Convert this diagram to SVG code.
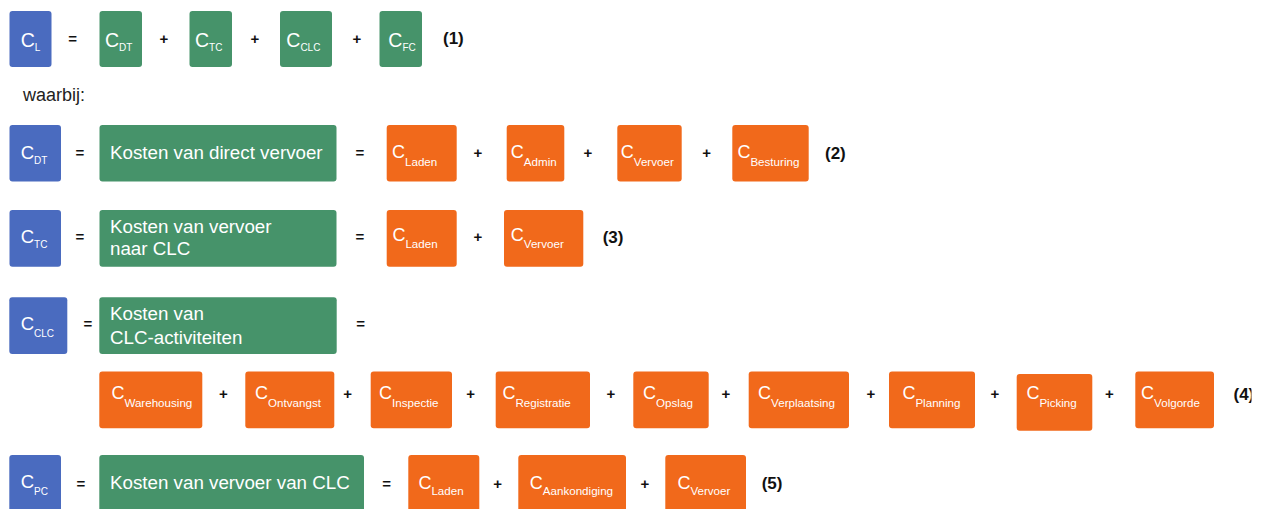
<svg xmlns="http://www.w3.org/2000/svg" width="1265" height="509" viewBox="0 0 1265 509">
  <style>
    .blue { fill: #4A6BBF; }
    .green { fill: #46936A; }
    .orange { fill: #F1691B; }
    text { font-family: "Liberation Sans", Arial, sans-serif; }
    .lbl { fill: #FFFFFF; }
    .c1 { font-size: 19.5px; }
    .s1 { font-size: 10px; }
    .cb { font-size: 18.5px; }
    .sb { font-size: 10px; }
    .co { font-size: 18px; }
    .so { font-size: 11.6px; }
    .desc { fill: #FFFFFF; font-size: 18.75px; }
    .op { fill: #111111; font-size: 15px; font-weight: bold; text-anchor: middle; }
    .num { fill: #111111; font-size: 17px; font-weight: bold; }
    .note { fill: #222222; font-size: 18px; }
  </style>
  <defs>
    <clipPath id="edge"><rect x="0" y="0" width="1251.5" height="509"/></clipPath>
  </defs>

  <!-- (1) C_L = C_DT + C_TC + C_CLC + C_FC -->
  <g id="n-cl"><rect class="blue" x="9.5" y="11" width="42" height="56" rx="3"/>
    <text class="lbl" x="20.7" y="46.7"><tspan class="c1">C</tspan><tspan class="s1" dy="4">L</tspan></text></g>
  <g id="n-cdt-1"><rect class="green" x="99.5" y="11" width="42.5" height="56" rx="3"/>
    <text class="lbl" x="105" y="46.7"><tspan class="c1">C</tspan><tspan class="s1" dy="4">DT</tspan></text></g>
  <g id="n-ctc-1"><rect class="green" x="189.5" y="11" width="42.5" height="56" rx="3"/>
    <text class="lbl" x="195" y="46.7"><tspan class="c1">C</tspan><tspan class="s1" dy="4">TC</tspan></text></g>
  <g id="n-cclc-1"><rect class="green" x="280" y="11" width="52" height="56" rx="3"/>
    <text class="lbl" x="286.3" y="46.7"><tspan class="c1">C</tspan><tspan class="s1" dy="4">CLC</tspan></text></g>
  <g id="n-cfc-1"><rect class="green" x="379.5" y="11" width="42.5" height="56" rx="3"/>
    <text class="lbl" x="388.3" y="46.7"><tspan class="c1">C</tspan><tspan class="s1" dy="4">FC</tspan></text></g>

  <text class="note" x="23" y="101">waarbij:</text>

  <!-- (2) C_DT -->
  <g id="n-cdt"><rect class="blue" x="9.5" y="125" width="51.5" height="56.5" rx="3"/>
    <text class="lbl" x="20.7" y="159"><tspan class="cb">C</tspan><tspan class="sb" dy="5.3">DT</tspan></text></g>
  <g id="n-dt-desc"><rect class="green" x="99.5" y="125" width="237" height="56.5" rx="3"/>
    <text class="desc" x="110" y="159.3">Kosten van direct vervoer</text></g>
  <g id="n-dt-laden"><rect class="orange" x="386.7" y="125" width="70" height="56.5" rx="3"/>
    <text class="lbl" x="392" y="157.7"><tspan class="co">C</tspan><tspan class="so" dy="8">Laden</tspan></text></g>
  <g id="n-dt-admin"><rect class="orange" x="506.7" y="125" width="57.6" height="56.5" rx="3"/>
    <text class="lbl" x="510.8" y="157.7"><tspan class="co">C</tspan><tspan class="so" dy="8">Admin</tspan></text></g>
  <g id="n-dt-vervoer"><rect class="orange" x="617.3" y="125" width="64.4" height="56.5" rx="3"/>
    <text class="lbl" x="620.8" y="157.7"><tspan class="co">C</tspan><tspan class="so" dy="8">Vervoer</tspan></text></g>
  <g id="n-dt-besturing"><rect class="orange" x="732.3" y="125" width="76.4" height="56.5" rx="3"/>
    <text class="lbl" x="737.4" y="157.7"><tspan class="co">C</tspan><tspan class="so" dy="8">Besturing</tspan></text></g>

  <!-- (3) C_TC -->
  <g id="n-ctc"><rect class="blue" x="9.5" y="210" width="51.5" height="56.7" rx="3"/>
    <text class="lbl" x="20.7" y="243.3"><tspan class="cb">C</tspan><tspan class="sb" dy="5">TC</tspan></text></g>
  <g id="n-tc-desc"><rect class="green" x="99.5" y="210" width="237" height="56.7" rx="3"/>
    <text class="desc" x="110" y="233.3">Kosten van vervoer</text>
    <text class="desc" x="110" y="255">naar CLC</text></g>
  <g id="n-tc-laden"><rect class="orange" x="386.7" y="210" width="70" height="56.7" rx="3"/>
    <text class="lbl" x="392.4" y="241"><tspan class="co">C</tspan><tspan class="so" dy="7.3">Laden</tspan></text></g>
  <g id="n-tc-vervoer"><rect class="orange" x="504" y="210" width="79.3" height="56.7" rx="3"/>
    <text class="lbl" x="510.8" y="241"><tspan class="co">C</tspan><tspan class="so" dy="7.3">Vervoer</tspan></text></g>

  <!-- (4) C_CLC -->
  <g id="n-cclc"><rect class="blue" x="9.3" y="297.3" width="58" height="56.7" rx="3"/>
    <text class="lbl" x="20.7" y="330"><tspan class="cb">C</tspan><tspan class="sb" dy="7.3">CLC</tspan></text></g>
  <g id="n-clc-desc"><rect class="green" x="99.3" y="297.3" width="237.4" height="56.7" rx="3"/>
    <text class="desc" x="110" y="320">Kosten van</text>
    <text class="desc" x="110" y="344">CLC-activiteiten</text></g>
  <g id="n-warehousing"><rect class="orange" x="99.3" y="371.6" width="103" height="56.7" rx="3"/>
    <text class="lbl" x="111.4" y="399.3"><tspan class="co">C</tspan><tspan class="so" dy="8">Warehousing</tspan></text></g>
  <g id="n-ontvangst"><rect class="orange" x="245.3" y="371.6" width="89" height="56.7" rx="3"/>
    <text class="lbl" x="255.1" y="399.3"><tspan class="co">C</tspan><tspan class="so" dy="8">Ontvangst</tspan></text></g>
  <g id="n-inspectie"><rect class="orange" x="370.7" y="371.6" width="81.3" height="56.7" rx="3"/>
    <text class="lbl" x="379.1" y="399.3"><tspan class="co">C</tspan><tspan class="so" dy="8">Inspectie</tspan></text></g>
  <g id="n-registratie"><rect class="orange" x="495.7" y="371.6" width="94.3" height="56.7" rx="3"/>
    <text class="lbl" x="502.4" y="399.3"><tspan class="co">C</tspan><tspan class="so" dy="8">Registratie</tspan></text></g>
  <g id="n-opslag"><rect class="orange" x="633.3" y="371.6" width="75.4" height="56.7" rx="3"/>
    <text class="lbl" x="643.1" y="399.3"><tspan class="co">C</tspan><tspan class="so" dy="8">Opslag</tspan></text></g>
  <g id="n-verplaatsing"><rect class="orange" x="748.7" y="371.6" width="100.3" height="56.7" rx="3"/>
    <text class="lbl" x="758.1" y="399.3"><tspan class="co">C</tspan><tspan class="so" dy="8">Verplaatsing</tspan></text></g>
  <g id="n-planning"><rect class="orange" x="889" y="371.6" width="86" height="56.7" rx="3"/>
    <text class="lbl" x="902.4" y="399.3"><tspan class="co">C</tspan><tspan class="so" dy="8">Planning</tspan></text></g>
  <g id="n-picking"><rect class="orange" x="1016.7" y="374" width="75.6" height="56.7" rx="3"/>
    <text class="lbl" x="1026.4" y="399.3"><tspan class="co">C</tspan><tspan class="so" dy="8">Picking</tspan></text></g>
  <g id="n-volgorde"><rect class="orange" x="1135.3" y="371.6" width="78.7" height="56.7" rx="3"/>
    <text class="lbl" x="1141.1" y="399.3"><tspan class="co">C</tspan><tspan class="so" dy="8">Volgorde</tspan></text></g>

  <!-- (5) C_PC -->
  <g id="n-cpc"><rect class="blue" x="9.3" y="455" width="51.7" height="57" rx="3"/>
    <text class="lbl" x="20.7" y="488.3"><tspan class="cb">C</tspan><tspan class="sb" dy="6.7">PC</tspan></text></g>
  <g id="n-pc-desc"><rect class="green" x="99.3" y="455" width="264.7" height="57" rx="3"/>
    <text class="desc" x="110" y="489.3">Kosten van vervoer van CLC</text></g>
  <g id="n-pc-laden"><rect class="orange" x="408.3" y="455" width="71" height="57" rx="3"/>
    <text class="lbl" x="418.4" y="489.3"><tspan class="co">C</tspan><tspan class="so" dy="5.7">Laden</tspan></text></g>
  <g id="n-pc-aankondiging"><rect class="orange" x="518.3" y="455" width="107.7" height="57" rx="3"/>
    <text class="lbl" x="529.8" y="489.3"><tspan class="co">C</tspan><tspan class="so" dy="5.7">Aankondiging</tspan></text></g>
  <g id="n-pc-vervoer"><rect class="orange" x="665.3" y="455" width="80.7" height="57" rx="3"/>
    <text class="lbl" x="677.4" y="489.3"><tspan class="co">C</tspan><tspan class="so" dy="5.7">Vervoer</tspan></text></g>

  <!-- operators between terms -->
  <g id="operators">
    <text class="op" x="72.7" y="44">=</text>
    <text class="op" x="164" y="44">+</text>
    <text class="op" x="255" y="44">+</text>
    <text class="op" x="357" y="44">+</text>

    <text class="op" x="80" y="158">=</text>
    <text class="op" x="360" y="158">=</text>
    <text class="op" x="478" y="158">+</text>
    <text class="op" x="588" y="158">+</text>
    <text class="op" x="706.7" y="158">+</text>

    <text class="op" x="80" y="242">=</text>
    <text class="op" x="360" y="242">=</text>
    <text class="op" x="478" y="242">+</text>

    <text class="op" x="88" y="328.5">=</text>
    <text class="op" x="360.7" y="328.5">=</text>
    <text class="op" x="223.3" y="399.3">+</text>
    <text class="op" x="347.7" y="399.3">+</text>
    <text class="op" x="470.7" y="399.3">+</text>
    <text class="op" x="611" y="399.3">+</text>
    <text class="op" x="726" y="399.3">+</text>
    <text class="op" x="871" y="399.3">+</text>
    <text class="op" x="995" y="399.3">+</text>
    <text class="op" x="1109.3" y="399.3">+</text>

    <text class="op" x="81" y="488.5">=</text>
    <text class="op" x="386.7" y="488.5">=</text>
    <text class="op" x="497.7" y="488.5">+</text>
    <text class="op" x="645" y="488.5">+</text>
  </g>

  <!-- equation numbers -->
  <g id="numbers">
    <text class="num" x="443" y="44">(1)</text>
    <text class="num" x="825" y="158.5">(2)</text>
    <text class="num" x="602.7" y="242.5">(3)</text>
    <text class="num" x="1233.5" y="400" clip-path="url(#edge)">(4)</text>
    <text class="num" x="761.7" y="488.5">(5)</text>
  </g>
</svg>
